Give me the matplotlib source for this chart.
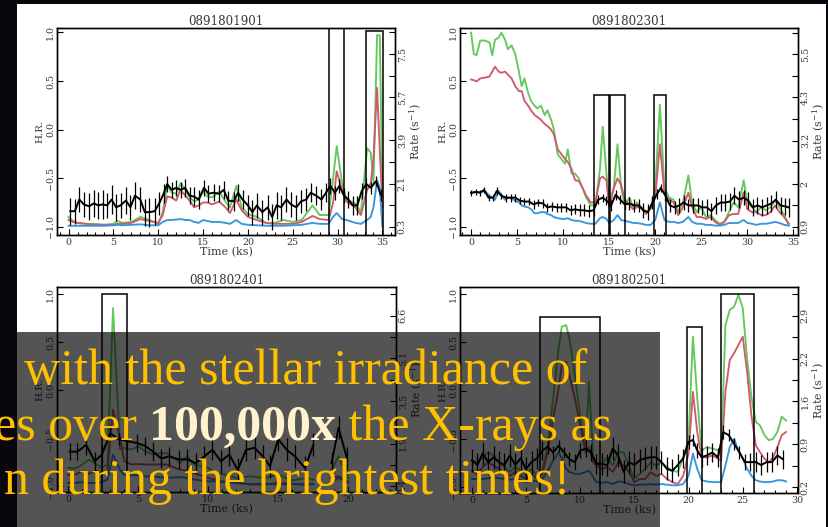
import numpy as np
import matplotlib
matplotlib.use("Agg")
import matplotlib.pyplot as plt
from matplotlib.patches import Rectangle
from matplotlib.text import Annotation
from matplotlib.ticker import MultipleLocator

nan = np.nan

# ---------------- panel a: 0891801901 ----------------
t_a = [0, 0.5, 1, 2, 3, 4, 5, 5.5, 6, 7, 8, 9, 10, 10.5, 11, 11.5, 12, 12.5, 13, 13.5,
       14, 14.5, 15, 15.5, 16, 16.8, 17.5, 18, 18.7, 19.3, 20, 21, 22, 23, 24, 25, 26, 27.2, 28, 29,
       29.5, 29.9, 30.5, 31, 32, 32.6, 33.3, 33.7, 34.0, 34.4, 34.7, 35]
green_a = [0.71, 0.54, 0.46, 0.42, 0.42, 0.38, 0.42, 0.54, 0.46, 0.50,
           0.71, 0.58, 0.42, 0.91, 2.04, 1.72, 1.68, 2.12, 1.84, 1.52,
           1.35, 1.43, 1.76, 1.56, 1.52, 1.76, 1.35, 1.11, 2.00, 1.11,
           0.83, 0.71, 0.46, 0.46, 0.58, 0.50, 0.58, 1.19, 0.79, 0.79,
           2.33, 3.66, 2.12, 1.43, 1.27, 0.91, 3.58, 3.38, 2.12, 8.28,
           8.28, 1.52]
red_a = [0.58, 0.50, 0.46, 0.42, 0.38, 0.38, 0.38, 0.42, 0.42, 0.46,
         0.62, 0.54, 0.46, 0.79, 1.56, 1.52, 1.39, 1.84, 1.60, 1.39,
         1.11, 1.19, 1.31, 1.31, 1.23, 1.35, 1.11, 0.87, 1.43, 0.99,
         0.71, 0.58, 0.46, 0.42, 0.42, 0.42, 0.50, 0.75, 0.62, 0.58,
         1.31, 2.61, 1.84, 1.35, 1.11, 0.79, 1.84, 2.12, 3.14, 6.09,
         3.54, 1.11]
blue_a = [0.34, 0.34, 0.34, 0.34, 0.34, 0.34, 0.36, 0.38, 0.36, 0.38,
          0.40, 0.36, 0.36, 0.50, 0.58, 0.58, 0.60, 0.62, 0.58, 0.58,
          0.50, 0.46, 0.58, 0.54, 0.50, 0.50, 0.46, 0.42, 0.58, 0.42,
          0.38, 0.36, 0.34, 0.34, 0.34, 0.36, 0.38, 0.46, 0.42, 0.42,
          0.71, 0.87, 0.62, 0.58, 0.46, 0.42, 0.58, 0.71, 1.11, 2.24,
          1.92, 0.30]
th_a = [0.2, 0.7, 1.2, 1.7, 2.3, 2.8, 3.3, 3.8, 4.3, 4.8,
        5.3, 5.8, 6.4, 6.9, 7.4, 8.0, 8.5, 9.0, 9.6, 10.1,
        10.6, 11.0, 11.5, 12.0, 12.5, 13.0, 13.5, 14.0, 14.5, 15.1,
        15.6, 16.2, 16.8, 17.3, 17.8, 18.4, 18.9, 19.4, 20.0, 20.5,
        21.0, 21.6, 22.2, 22.7, 23.2, 23.7, 24.3, 24.8, 25.4, 25.9,
        26.5, 27.0, 27.6, 28.2, 28.7, 29.2, 29.7, 30.2, 30.7, 31.2,
        31.7, 32.2, 32.7, 33.2, 33.7, 34.3, 34.8]
hr_a = [-0.84, -0.84, -0.72, -0.77, -0.79, -0.76, -0.78, -0.77, -0.78, -0.72,
        -0.80, -0.78, -0.73, -0.80, -0.68, -0.72, -0.85, -0.85, -0.84, -0.76,
        -0.66, -0.56, -0.62, -0.60, -0.62, -0.60, -0.68, -0.69, -0.72, -0.60,
        -0.66, -0.65, -0.66, -0.62, -0.73, -0.74, -0.65, -0.72, -0.78, -0.85,
        -0.78, -0.85, -0.80, -0.90, -0.78, -0.80, -0.72, -0.77, -0.80, -0.74,
        -0.72, -0.65, -0.68, -0.72, -0.65, -0.58, -0.65, -0.58, -0.68, -0.72,
        -0.78, -0.78, -0.63, -0.56, -0.60, -0.53, -0.67]
he_a = [0.14, 0.13, 0.13, 0.13, 0.14, 0.14, 0.14, 0.15, 0.13, 0.15,
        0.14, 0.13, 0.14, 0.13, 0.14, 0.13, 0.14, 0.15, 0.14, 0.12,
        0.10, 0.08, 0.08, 0.08, 0.08, 0.09, 0.09, 0.10, 0.10, 0.08,
        0.09, 0.09, 0.09, 0.09, 0.10, 0.10, 0.09, 0.10, 0.11, 0.13,
        0.13, 0.13, 0.13, 0.13, 0.14, 0.13, 0.13, 0.13, 0.13, 0.12,
        0.12, 0.10, 0.10, 0.11, 0.10, 0.08, 0.07, 0.07, 0.08, 0.09,
        0.10, 0.10, 0.08, 0.06, 0.06, 0.05, 0.06]
boxes_a = [(29.06, 30.7, 1.3), (33.15, 35.08, 1.01)]
rticks_a = [0.3, 1.2, 2.1, 3.0, 3.9, 4.8, 5.7, 6.6, 7.5, 8.4]
rlabels_a = ["0.3", "", "2.1", "", "3.9", "", "5.7", "", "7.5", ""]

# ---------------- panel b: 0891802301 ----------------
t_b = [0, 0.3, 0.6, 1.0, 1.5, 2.0, 2.3, 2.6, 3.0, 3.3,
       3.7, 4.0, 4.4, 4.8, 5.2, 5.5, 5.8, 6.2, 6.5, 6.9,
       7.2, 7.6, 8.0, 8.3, 8.7, 9.0, 9.4, 9.8, 10.2, 10.5,
       10.9, 11.3, 11.7, 12.1, 12.5, 13.0, 13.5, 14.0, 14.3, 14.7,
       15.0, 15.5, 15.9, 16.3, 16.7, 17.2, 17.6, 18.0, 18.5, 19.0,
       19.5, 20.0, 20.5, 21.0, 21.5, 22.0, 22.5, 23.0, 23.6, 24.0,
       24.5, 25.0, 25.5, 26.0, 26.5, 27.0, 27.5, 28.0, 28.5, 29.0,
       29.6, 30.0, 30.5, 31.0, 31.5, 32.0, 32.5, 33.0, 33.5, 34.0, 34.5]
green_b = [6.08, 5.51, 5.48, 5.87, 5.87, 5.82, 5.48, 5.89, 5.95, 6.08,
           5.89, 5.64, 5.74, 5.51, 5.04, 4.65, 4.86, 4.47, 4.26, 4.13,
           4.06, 4.13, 3.88, 4.01, 3.75, 3.49, 2.84, 2.71, 2.58, 2.97,
           2.32, 2.32, 2.19, 1.94, 1.68, 1.47, 1.47, 2.45, 3.57, 2.32,
           1.47, 1.94, 3.10, 1.94, 1.47, 1.68, 1.42, 1.55, 1.42, 1.29,
           1.37, 1.94, 4.16, 1.94, 1.68, 1.62, 1.29, 1.55, 2.27, 1.55,
           1.29, 1.42, 1.16, 1.21, 1.08, 0.98, 1.03, 1.29, 1.55, 1.42,
           2.14, 1.55, 1.42, 1.29, 1.42, 1.34, 1.42, 1.60, 1.42, 1.21, 0.95]
red_b = [4.83, 4.81, 4.78, 4.86, 4.88, 4.91, 5.04, 5.17, 5.04, 5.01,
         5.04, 4.96, 4.86, 4.65, 4.52, 4.52, 4.26, 4.13, 4.01, 3.88,
         3.83, 3.75, 3.64, 3.59, 3.49, 3.36, 2.97, 2.84, 2.71, 2.63,
         2.45, 2.14, 2.12, 1.94, 1.73, 1.55, 1.55, 2.19, 2.24, 2.14,
         1.42, 1.94, 2.19, 2.01, 1.62, 1.47, 1.37, 1.42, 1.42, 1.24,
         1.42, 1.68, 3.10, 1.81, 1.62, 1.55, 1.21, 1.42, 1.81, 1.42,
         1.16, 1.16, 1.11, 1.16, 1.03, 0.95, 1.03, 1.21, 1.24, 1.24,
         1.81, 1.37, 1.29, 1.29, 1.21, 1.21, 1.29, 1.47, 1.29, 1.16, 0.98]
blue_b = [1.81, 1.81, 1.83, 1.83, 1.86, 1.73, 1.68, 1.62, 1.86, 1.73,
          1.62, 1.68, 1.65, 1.60, 1.55, 1.47, 1.44, 1.42, 1.37, 1.26,
          1.26, 1.29, 1.29, 1.24, 1.21, 1.16, 1.13, 1.11, 1.11, 1.13,
          1.08, 1.06, 1.06, 1.03, 1.00, 0.98, 0.98, 1.13, 1.16, 1.11,
          1.00, 1.08, 1.21, 1.08, 1.06, 1.03, 1.00, 1.00, 0.98, 0.95,
          0.95, 1.08, 1.55, 1.08, 1.03, 1.03, 1.00, 1.03, 1.16, 1.03,
          0.98, 0.98, 0.95, 0.95, 0.93, 0.93, 0.95, 1.00, 1.00, 1.00,
          1.08, 1.00, 0.98, 0.95, 0.98, 0.98, 1.00, 1.03, 1.00, 0.95, 0.93]
th_b = [0.0, 0.5, 1.0, 1.4, 1.9, 2.4, 2.8, 3.3, 3.8, 4.3,
        4.8, 5.3, 5.8, 6.3, 6.8, 7.3, 7.8, 8.3, 8.8, 9.3,
        9.8, 10.3, 10.8, 11.3, 11.8, 12.3, 12.8, 13.3, 13.8, 14.3,
        14.7, 15.2, 15.7, 16.2, 16.7, 17.2, 17.7, 18.2, 18.7, 19.2,
        19.7, 20.2, 20.6, 21.1, 21.6, 22.1, 22.6, 23.1, 23.6, 24.1,
        24.6, 25.1, 25.6, 26.1, 26.6, 27.1, 27.6, 28.1, 28.6, 29.1,
        29.6, 30.1, 30.6, 31.1, 31.6, 32.1, 32.6, 33.1, 33.6, 34.1, 34.5]
hr_b = [-0.65, -0.64, -0.65, -0.62, -0.70, -0.70, -0.63, -0.68, -0.70, -0.70,
        -0.70, -0.73, -0.74, -0.74, -0.77, -0.75, -0.76, -0.80, -0.79, -0.80,
        -0.80, -0.80, -0.83, -0.82, -0.83, -0.83, -0.84, -0.83, -0.72, -0.70,
        -0.73, -0.78, -0.67, -0.72, -0.77, -0.76, -0.78, -0.78, -0.83, -0.85,
        -0.75, -0.66, -0.60, -0.68, -0.78, -0.80, -0.78, -0.75, -0.78, -0.78,
        -0.78, -0.80, -0.80, -0.84, -0.78, -0.75, -0.75, -0.74, -0.68, -0.72,
        -0.70, -0.73, -0.80, -0.78, -0.80, -0.78, -0.76, -0.72, -0.78, -0.79, -0.80]
he_b = [0.03, 0.03, 0.03, 0.03, 0.03, 0.03, 0.04, 0.03, 0.04, 0.04,
        0.04, 0.04, 0.04, 0.04, 0.05, 0.04, 0.05, 0.05, 0.05, 0.05,
        0.05, 0.05, 0.05, 0.05, 0.06, 0.06, 0.06, 0.06, 0.05, 0.04,
        0.05, 0.06, 0.05, 0.05, 0.06, 0.07, 0.07, 0.07, 0.08, 0.08,
        0.07, 0.05, 0.04, 0.05, 0.07, 0.07, 0.08, 0.08, 0.07, 0.08,
        0.08, 0.08, 0.09, 0.09, 0.09, 0.09, 0.09, 0.09, 0.09, 0.09,
        0.08, 0.09, 0.09, 0.09, 0.09, 0.09, 0.09, 0.09, 0.09, 0.09, 0.10]
boxes_b = [(13.3, 15.0, 0.355), (15.1, 16.7, 0.355), (19.9, 21.2, 0.36)]
rticks_b = [0.9, 1.475, 2.05, 2.625, 3.2, 3.775, 4.35, 4.925, 5.5, 6.075]
rlabels_b = ["0.9", "", "2", "", "3.2", "", "4.3", "", "5.5", ""]

# ---------------- panel c: 0891802401 ----------------
t_c = [0, 0.5, 1.0, 1.5, 2.0, 2.4, 2.8, 3.2, 3.7, 4.0,
       4.5, 5.0, 5.5, 6.0, 7.0, 8.0, 8.5, 9.0, 10.0, 10.5,
       11.0, 12.0, 13.0, 14.0, 15.0, 16.0, 17.0, 17.5, 18.1, 18.7,
       19.3, 20.0]
green_c = [1.07, 1.04, 1.19, 1.37, 1.19, 1.07, 1.19, 6.87, 1.73, 1.79,
           1.73, 1.85, 1.67, 1.57, 1.61, 1.25, 1.49, 1.19, 1.07, 0.88,
           0.85, 0.70, 0.76, 0.70, 0.82, 0.61, 0.70, 0.64, nan, 0.88,
           1.49, 0.70]
red_c = [0.82, 0.82, 0.94, 0.85, 0.97, 0.88, 0.94, 3.18, 2.15, 1.31,
         1.19, 1.21, 1.19, 1.19, 1.19, 1.00, 0.97, 0.88, 0.70, 0.64,
         0.58, 0.52, 0.46, 0.46, 0.52, 0.48, 0.46, 0.48, nan, 0.70,
         0.76, 0.58]
blue_c = [0.52, 0.52, 0.55, 0.52, 0.52, 0.56, 0.64, 1.55, 1.00, 0.82,
          0.80, 0.80, 0.76, 0.76, 0.70, 0.73, 0.70, 0.64, 0.58, 0.58,
          0.56, 0.52, 0.48, 0.50, 0.46, 0.48, 0.46, 0.48, nan, 0.52,
          0.70, 0.52]
th_c = [0.1, 0.66, 1.28, 1.9, 2.4, 3.0, 3.6, 4.2, 4.9, 5.5,
        6.05, 6.65, 7.2, 7.9, 8.5, 9.1, 9.7, 10.3, 10.9, 11.5,
        12.1, 12.7, 13.3, 13.9, 14.4, 15.0, 15.6, 16.2, 16.9, 17.5,
        18.1, 18.8, 19.3, 19.9]
hr_c = [-0.64, -0.64, -0.57, -0.74, -0.67, -0.45, -0.51, -0.53, -0.55, -0.58,
        -0.64, -0.71, -0.69, -0.72, -0.72, -0.76, -0.69, -0.62, -0.74, -0.67,
        -0.83, -0.62, -0.60, -0.69, -0.79, -0.51, -0.62, -0.69, -0.81, -0.57,
        nan, -0.76, -0.39, -0.71]
he_c = [0.09, 0.09, 0.10, 0.10, 0.10, 0.06, 0.06, 0.08, 0.09, 0.09,
        0.10, 0.10, 0.10, 0.10, 0.11, 0.11, 0.11, 0.11, 0.12, 0.12,
        0.12, 0.12, 0.12, 0.12, 0.12, 0.12, 0.12, 0.12, 0.12, 0.12,
        nan, 0.12, 0.12, 0.12]
boxes_c = [(2.39, 4.23, 1.0)]
rticks_c = [0.4, 1.175, 1.95, 2.725, 3.5, 4.275, 5.05, 5.825, 6.6, 7.375]
rlabels_c = ["0.4", "", "1.9", "", "3.5", "", "5.1", "", "6.6", ""]

# ---------------- panel d: 0891802501 ----------------
t_d = [0, 0.5, 1, 1.5, 2, 2.5, 3, 3.5, 4, 4.5,
       5, 5.5, 6, 6.5, 7, 7.5, 8.0, 8.3, 8.7, 9.0,
       9.5, 10.0, 10.5, 10.8, 11.2, 11.5, 12, 12.5, 13, 13.5,
       14, 14.5, 15, 15.5, 16, 16.5, 17, 17.5, 18, 18.5,
       19, 19.5, 20, 20.4, 20.8, 21.2, 21.7, 22.2, 22.7, 23.0,
       23.4, 23.8, 24.2, 24.6, 25.0, 25.4, 25.8, 26.2, 26.6, 27.0,
       27.4, 27.8, 28.2, 28.6, 29.0]
green_d = [0.62, 0.59, 0.67, 0.75, 0.70, 0.59, 0.52, 0.44, 0.52, 0.46,
           0.38, 0.49, 0.38, 0.46, 0.86, 1.60, 2.38, 2.73, 2.75, 2.54,
           1.96, 1.33, 0.75, 1.86, 0.65, 0.59, 0.57, 0.67, 0.54, 0.75,
           0.75, 0.54, 0.33, 0.41, 0.49, 0.59, 0.54, 0.59, 0.52, 0.46,
           0.44, 0.65, 0.96, 2.57, 1.60, 0.78, 0.83, 0.81, 0.78, 0.67,
           2.75, 2.99, 3.04, 3.23, 3.02, 2.23, 1.62, 1.23, 1.17, 1.02,
           0.94, 0.96, 1.07, 1.31, 1.25]
red_d = [0.46, 0.41, 0.52, 0.59, 0.54, 0.49, 0.41, 0.38, 0.44, 0.38,
         0.33, 0.41, 0.33, 0.41, 0.75, 1.28, 1.75, 2.12, 2.17, 1.96,
         1.60, 1.17, 0.75, 0.83, 0.59, 0.54, 0.49, 0.52, 0.44, 0.59,
         0.54, 0.44, 0.28, 0.33, 0.33, 0.44, 0.38, 0.41, 0.33, 0.28,
         0.25, 0.38, 0.73, 1.70, 1.07, 0.67, 0.67, 0.70, 0.65, 0.62,
         1.70, 2.20, 2.31, 2.44, 2.57, 2.02, 1.33, 0.86, 0.75, 0.65,
         0.59, 0.67, 0.83, 1.02, 1.07]
blue_d = [0.33, 0.33, 0.33, 0.34, 0.36, 0.34, 0.33, 0.32, 0.33, 0.31,
          0.28, 0.31, 0.29, 0.33, 0.46, 0.62, 0.75, 0.65, 0.49, 0.44,
          0.41, 0.41, 0.44, 0.46, 0.36, 0.28, 0.27, 0.28, 0.25, 0.29,
          0.28, 0.25, 0.23, 0.24, 0.24, 0.25, 0.24, 0.25, 0.24, 0.23,
          0.23, 0.25, 0.38, 0.73, 0.49, 0.31, 0.29, 0.28, 0.28, 0.28,
          0.54, 0.83, 0.96, 0.78, 0.65, 0.49, 0.38, 0.31, 0.29, 0.28,
          0.28, 0.29, 0.31, 0.31, 0.29]
th_d = [0.0, 0.5, 1.0, 1.5, 2.0, 2.5, 3.0, 3.5, 4.0, 4.5,
        5.0, 5.5, 6.0, 6.5, 7.0, 7.5, 8.0, 8.5, 9.0, 9.5,
        10.0, 10.5, 11.0, 11.5, 12.0, 12.5, 13.0, 13.5, 14.0, 14.5,
        15.0, 15.5, 16.0, 16.5, 17.0, 17.5, 18.0, 18.5, 19.0, 19.5,
        20.0, 20.4, 20.8, 21.2, 21.7, 22.2, 22.7, 23.2, 23.7, 24.2,
        24.7, 25.2, 25.7, 26.2, 26.7, 27.2, 27.7, 28.2, 28.7]
hr_d = [-0.72, -0.77, -0.65, -0.74, -0.69, -0.74, -0.77, -0.67, -0.77, -0.70,
        -0.81, -0.74, -0.70, -0.62, -0.58, -0.64, -0.57, -0.64, -0.71, -0.74,
        -0.62, -0.60, -0.64, -0.76, -0.76, -0.77, -0.60, -0.67, -0.84, -0.74,
        -0.77, -0.72, -0.70, -0.69, -0.69, -0.74, -0.81, -0.83, -0.77, -0.70,
        -0.53, -0.51, -0.62, -0.69, -0.67, -0.64, -0.69, -0.43, -0.46, -0.55,
        -0.64, -0.74, -0.74, -0.74, -0.77, -0.74, -0.74, -0.67, -0.71]
he_d = [0.12, 0.12, 0.12, 0.12, 0.12, 0.12, 0.12, 0.12, 0.12, 0.12,
        0.12, 0.12, 0.11, 0.10, 0.08, 0.07, 0.06, 0.06, 0.07, 0.08,
        0.08, 0.09, 0.09, 0.10, 0.11, 0.11, 0.12, 0.12, 0.12, 0.12,
        0.12, 0.12, 0.12, 0.12, 0.12, 0.12, 0.12, 0.12, 0.11, 0.10,
        0.07, 0.06, 0.08, 0.10, 0.10, 0.10, 0.10, 0.07, 0.06, 0.06,
        0.07, 0.08, 0.09, 0.10, 0.10, 0.10, 0.10, 0.10, 0.10]
boxes_d = [(6.33, 11.83, 0.76), (19.85, 21.2, 0.66), (23.0, 26.0, 1.0)]
rticks_d = [0.2, 0.5375, 0.875, 1.2125, 1.55, 1.8875, 2.225, 2.5625, 2.9, 3.2375]
rlabels_d = ["0.2", "", "0.9", "", "1.6", "", "2.2", "", "2.9", ""]

# overlay caption
line1 = "with the stellar irradiance of"
line2 = ["es over ", "100,000x", " the X-rays as"]
line3 = "n during the brightest times!"

# ---------------- drawing ----------------
W, H = 829, 527
plt.rcParams["font.family"] = "DejaVu Serif"
plt.rcParams["mathtext.fontset"] = "dejavuserif"

GREEN, RED, BLUE = "#62c95a", "#cf5a6e", "#3796dc"
TXT = "#3a3a3a"

fig = plt.figure(figsize=(W / 100, H / 100), dpi=100, facecolor="#09070d")


def frac(x0, y0, x1, y1):
    return [x0 / W, 1 - y1 / H, (x1 - x0) / W, (y1 - y0) / H]


# white slide panel holding the figure
fig.add_artist(Rectangle((17 / W, 0), 809 / W, 523 / H, transform=fig.transFigure,
                         facecolor="white", edgecolor="none", zorder=-5))

panels = [
    ("0891801901", frac(57, 28, 395, 235), (-1.29, 36.4), (-1.085, 1.045), 35,
     t_a, green_a, red_a, blue_a, th_a, hr_a, he_a, boxes_a, rticks_a, rlabels_a),
    ("0891802301", frac(460, 28, 798, 235), (-1.2, 35.5), (-1.085, 1.05), 35,
     t_b, green_b, red_b, blue_b, th_b, hr_b, he_b, boxes_b, rticks_b, rlabels_b),
    ("0891802401", frac(57, 287, 396, 492), (-0.8, 23.4), (-1.06, 1.075), 20,
     t_c, green_c, red_c, blue_c, th_c, hr_c, he_c, boxes_c, rticks_c, rlabels_c),
    ("0891802501", frac(460, 287, 798, 493), (-1.1, 30.1), (-1.06, 1.075), 30,
     t_d, green_d, red_d, blue_d, th_d, hr_d, he_d, boxes_d, rticks_d, rlabels_d),
]

for (name, rect, xlim, ylim, xmax, t, g, r, b, th, hr, he, boxes, rticks, rlabels) in panels:
    ax = fig.add_axes(rect)
    ax2 = ax.twinx()
    ax.set_zorder(ax2.get_zorder() + 1)
    ax.patch.set_visible(False)
    ax2.patch.set_visible(False)

    # rate curves on the right-hand axis, aligned so first/last tick sit at H.R. -1 / 1
    span = (rticks[-1] - rticks[0]) / 2
    ax2.set_ylim(rticks[0] + (ylim[0] + 1) * span, rticks[0] + (ylim[1] + 1) * span)
    ax2.plot(t, g, color=GREEN, lw=1.35)
    ax2.plot(t, r, color=RED, lw=1.35)
    ax2.plot(t, b, color=BLUE, lw=1.35)

    # hardness ratio with error bars
    ax.errorbar(th, hr, yerr=he, color="k", lw=1.4, elinewidth=0.9, capsize=0)
    for x0, x1, top in boxes:
        ax.add_patch(Rectangle((x0, -1.3), x1 - x0, top + 1.3, fill=False,
                               edgecolor="k", lw=1.1))

    ax.set_xlim(xlim)
    ax.set_ylim(ylim)
    ax.set_xticks(range(0, xmax + 1, 5))
    ax.xaxis.set_minor_locator(MultipleLocator(1))
    ax.set_yticks([-1, -0.5, 0, 0.5, 1])
    ax.set_yticklabels(["\u22121.0", "\u22120.5", "0.0", "0.5", "1.0"])
    ax.tick_params(axis="both", which="both", direction="in", colors="k",
                   labelcolor=TXT, labelsize=6.8, width=0.8, top=False, right=False)
    ax.tick_params(axis="x", which="major", length=4, pad=2)
    ax.tick_params(axis="x", which="minor", length=2.5)
    ax.tick_params(axis="y", length=4, pad=1.5, labelrotation=90)
    for lab in ax.get_yticklabels():
        lab.set_va("center")

    ax2.set_yticks(rticks)
    ax2.set_yticklabels(rlabels)
    ax2.tick_params(axis="y", direction="in", length=4.5, width=0.8, labelsize=6.8,
                    labelcolor=TXT, pad=2, labelrotation=90)
    for lab in ax2.get_yticklabels():
        lab.set_va("center")

    for a in (ax, ax2):
        for s in a.spines.values():
            s.set_linewidth(1.0)

    ax.set_title(name, fontsize=8.6, color=TXT, pad=2)
    ax.set_xlabel("Time (ks)", fontsize=8, color=TXT, labelpad=0)
    ax.set_ylabel("H.R.", fontsize=7.5, color=TXT, labelpad=1)
    ax2.set_ylabel(r"Rate (s$^{-1}$)", fontsize=8, color=TXT, labelpad=1)

# translucent caption box over the lower half of the slide
fig.add_artist(Rectangle((17 / W, 0), 643 / W, 195 / H, transform=fig.transFigure,
                         facecolor="black", alpha=0.67, edgecolor="none", zorder=10))

YEL, CREAM = "#ffc000", "#fff2cc"
FS = 36
cap = dict(fontsize=FS, family="Liberation Serif", zorder=11, va="baseline")
fig.text(587 / W, 1 - 384 / H, line1, ha="right", color=YEL, **cap)
p3 = fig.text(612 / W, 1 - 440 / H, line2[2], ha="right", color=YEL, **cap)
p2 = Annotation(line2[1], xy=(0, 0), xycoords=p3, ha="right", va="bottom",
                color=CREAM, fontsize=FS, family="Liberation Serif", weight="bold", zorder=11)
fig.add_artist(p2)
p1 = Annotation(line2[0], xy=(0, 0), xycoords=p2, ha="right", va="bottom",
                color=YEL, fontsize=FS, family="Liberation Serif", zorder=11)
fig.add_artist(p1)
fig.text(570 / W, 1 - 494 / H, line3, ha="right", color=YEL, **cap)

fig.savefig("out.png", dpi=100, facecolor=fig.get_facecolor())
